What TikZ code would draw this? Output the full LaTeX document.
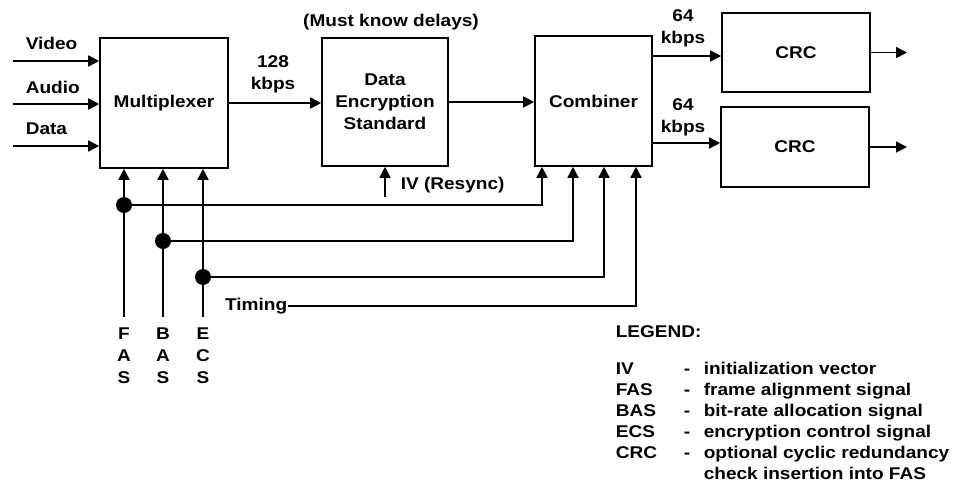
\documentclass[tikz,border=0pt]{standalone}
\usepackage{fontspec}
\setmainfont{Liberation Sans}[FakeStretch=1.12]
\usetikzlibrary{arrows.meta,calc}
\begin{document}
\begin{tikzpicture}[x=1pt,y=-1pt,
  font=\fontsize{17}{22}\selectfont\bfseries,
  line width=1.6pt,
  blk/.style={draw, inner sep=0pt, align=center},
  arr/.style={-{Triangle[length=11pt,width=11pt]}},
  jdot/.style={circle, fill, inner sep=0pt, minimum size=16pt},
  lbl/.style={inner sep=0pt, align=center}]
\useasboundingbox (0,0) rectangle (953,483);

% blocks
\node[blk, minimum width=128pt, minimum height=130pt] (mux) at (164,103) {Multiplexer};
\node[blk, minimum width=126pt, minimum height=128pt] (des) at (385,102) {Data\\Encryption\\Standard};
\node[blk, minimum width=117pt, minimum height=130pt] (comb) at (593.5,101) {Combiner};
\node[blk, minimum width=148pt, minimum height=79pt] (crc1) at (796,52.5) {CRC};
\node[blk, minimum width=148pt, minimum height=80pt] (crc2) at (795,147) {CRC};

% inputs
\coordinate (vin) at (13,61);
\coordinate (ain) at (13,104);
\coordinate (din) at (13,146);
\draw[arr] (vin) -- (vin -| mux.west);
\draw[arr] (ain) -- (ain -| mux.west);
\draw[arr] (din) -- (din -| mux.west);
\node[lbl, anchor=west] (vlab) at (25,43) {Video};
\node[lbl, anchor=west] (alab) at (25,87) {Audio};
\node[lbl, anchor=west] (dlab) at (25,129) {Data};

% mux -> des -> combiner
\draw[arr] (mux.east) -- (mux.east -| des.west);
\node[lbl] (r128) at (273,74) {128\\kbps};
\draw[arr] (des.east) -- (des.east -| comb.west);
\node[lbl] (must) at (391,22) {(Must know delays)};

% IV
\coordinate (ivs) at (385,197);
\draw[arr] (ivs) -- (ivs |- des.south);
\node[lbl, anchor=west] (ivlab) at (400,185) {IV (Resync)};

% combiner -> CRC
\coordinate (c1o) at (0,56);
\coordinate (c2o) at (0,143);
\draw[arr] (comb.east |- c1o) -- (crc1.west |- c1o);
\draw[arr] (comb.east |- c2o) -- (crc2.west |- c2o);
\node[lbl] (r64a) at (683,28) {64\\kbps};
\node[lbl] (r64b) at (683,117) {64\\kbps};

% outputs
\coordinate (eo) at (907,0);
\draw[arr] (crc1.east) -- (crc1.east -| eo);
\draw[arr] (crc2.east) -- (crc2.east -| eo);

% control signals
\coordinate (fx) at (124,317);
\coordinate (bx) at (163,317);
\coordinate (ex) at (203,317);
\draw[arr] (fx) -- (fx |- mux.south);
\draw[arr] (bx) -- (bx |- mux.south);
\draw[arr] (ex) -- (ex |- mux.south);
\node[jdot] (fd) at (124,205) {};
\node[jdot] (bd) at (163,241) {};
\node[jdot] (ed) at (203,277) {};
\coordinate (k1) at (542,0);
\coordinate (k2) at (573,0);
\coordinate (k3) at (604,0);
\coordinate (k4) at (636,0);
\draw[arr] (fd.center) -| (k1 |- comb.south);
\draw[arr] (bd.center) -| (k2 |- comb.south);
\draw[arr] (ed.center) -| (k3 |- comb.south);
\node[lbl, anchor=east] (tim) at (288,306) {Timing};
\draw[arr] (tim.east) -| (k4 |- comb.south);

\node[lbl] (fas) at (124,356) {F\\A\\S};
\node[lbl] (bas) at (163,356) {B\\A\\S};
\node[lbl] (ecs) at (203,356) {E\\C\\S};

% legend
\node[lbl, anchor=base west] (leg) at (615,337) {LEGEND:};
\node[lbl, anchor=base west] (l1a) at (615,374) {IV};
\node[lbl, anchor=base west] (l2a) at (615,395) {FAS};
\node[lbl, anchor=base west] (l3a) at (615,416) {BAS};
\node[lbl, anchor=base west] (l4a) at (615,437) {ECS};
\node[lbl, anchor=base west] (l5a) at (615,458) {CRC};
\node[lbl, anchor=base west] (l1b) at (683,374) {-};
\node[lbl, anchor=base west] (l2b) at (683,395) {-};
\node[lbl, anchor=base west] (l3b) at (683,416) {-};
\node[lbl, anchor=base west] (l4b) at (683,437) {-};
\node[lbl, anchor=base west] (l5b) at (683,458) {-};
\node[lbl, anchor=base west] (l1c) at (703,374) {initialization vector};
\node[lbl, anchor=base west] (l2c) at (703,395) {frame alignment signal};
\node[lbl, anchor=base west] (l3c) at (703,416) {bit-rate allocation signal};
\node[lbl, anchor=base west] (l4c) at (703,437) {encryption control signal};
\node[lbl, anchor=base west] (l5c) at (703,458) {optional cyclic redundancy};
\node[lbl, anchor=base west] (l6c) at (703,479) {check insertion into FAS};
\end{tikzpicture}
\end{document}
